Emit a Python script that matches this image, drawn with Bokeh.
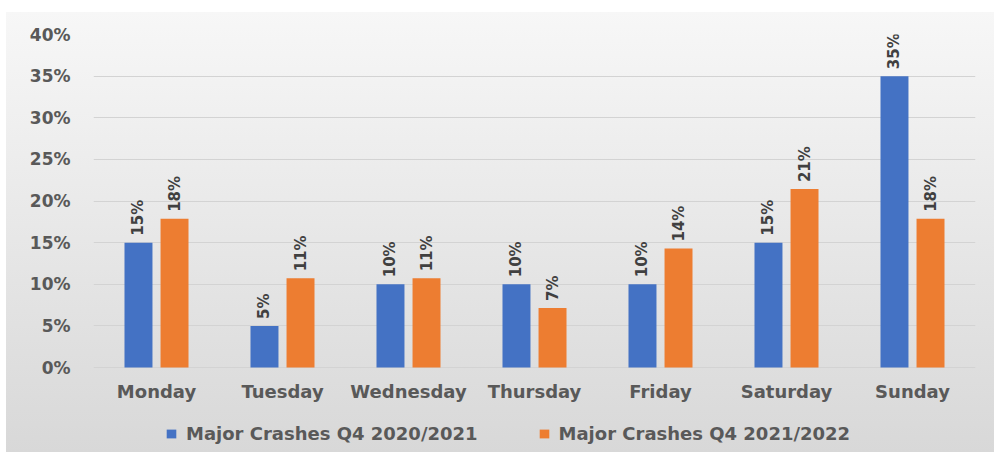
import math
from bokeh.plotting import figure
from bokeh.models import (ColumnDataSource, FactorRange, Range1d, Legend, LegendItem,
                          NumeralTickFormatter, FixedTicker)
from bokeh.transform import dodge
from bokeh.core.properties import value
from bokeh.embed import file_html
from bokeh.resources import INLINE

days = ["Monday", "Tuesday", "Wednesday", "Thursday", "Friday", "Saturday", "Sunday"]
crashes_2020_2021 = [0.15, 0.05, 0.10, 0.10, 0.10, 0.15, 0.35]
crashes_2021_2022 = [0.1786, 0.1071, 0.1071, 0.0714, 0.1429, 0.2143, 0.1786]
series_names = ["Major Crashes Q4 2020/2021", "Major Crashes Q4 2021/2022"]
y_ticks = [0.0, 0.05, 0.10, 0.15, 0.20, 0.25, 0.30, 0.35, 0.40]

BLUE = "#4472C4"
ORANGE = "#ED7D31"
TEXT = "#595959"
FONT = "DejaVu Sans"

src = ColumnDataSource(dict(
    day=days,
    zero=[0.0] * len(days),
    s1=crashes_2020_2021,
    s2=crashes_2021_2022,
    l1=[f"{round(v * 100)}%" for v in crashes_2020_2021],
    l2=[f"{round(v * 100)}%" for v in crashes_2021_2022],
))

# frame: 40% at 34px from top of page, 0% at 367px; frame continues down to 452px
# so that category labels and legend sit inside the plotting area
PX_PER_UNIT = 333 / 0.40
y_start = -(452 - 367) / PX_PER_UNIT

p = figure(x_range=FactorRange(*days), y_range=Range1d(y_start, 0.40),
           frame_width=882, frame_height=418,
           min_border_left=87, min_border_right=19, min_border_top=22, min_border_bottom=0,
           output_backend="svg", toolbar_location=None)

p.background_fill_alpha = 0
p.border_fill_alpha = 0
p.outline_line_color = None
p.styles = {"margin-top": "12px", "margin-left": "6px",
            "background": "linear-gradient(to bottom, #f7f7f7, #d8d8d8)"}

b1 = p.vbar(x=dodge("day", -0.143, range=p.x_range), top="s1", width=0.222,
            source=src, fill_color=BLUE, line_color=None)
b2 = p.vbar(x=dodge("day", 0.143, range=p.x_range), top="s2", width=0.222,
            source=src, fill_color=ORANGE, line_color=None)

for xoff, col, lab in [(-0.143, "s1", "l1"), (0.143, "s2", "l2")]:
    p.text(x=dodge("day", xoff, range=p.x_range), y=col, text=lab, source=src,
           angle=math.pi / 2, text_align="left", text_baseline="middle", y_offset=-7,
           text_font=value(FONT), text_font_style="bold", text_font_size="15px",
           text_color="#404040")

# category labels under the bars
p.text(x="day", y="zero", text="day", source=src, y_offset=24,
       text_align="center", text_baseline="middle",
       text_font=value(FONT), text_font_style="bold", text_font_size="18px",
       text_color=TEXT)
p.xaxis.visible = False

p.yaxis.ticker = FixedTicker(ticks=y_ticks)
p.yaxis.formatter = NumeralTickFormatter(format="0%")
ax = p.yaxis[0]
ax.axis_line_color = None
ax.major_tick_line_color = None
ax.minor_tick_line_color = None
ax.major_tick_out = 0
ax.major_tick_in = 0
ax.major_label_text_font = FONT
ax.major_label_text_font_style = "bold"
ax.major_label_text_color = TEXT
ax.major_label_text_font_size = "17px"
ax.major_label_standoff = 23

p.xgrid.grid_line_color = None
p.ygrid.grid_line_color = "#d3d3d3"
p.ygrid.grid_line_width = 1

legend = Legend(items=[LegendItem(label=series_names[0], renderers=[b1]),
                       LegendItem(label=series_names[1], renderers=[b2])],
                orientation="horizontal", location=(72, 8),
                glyph_width=12, glyph_height=11, label_standoff=9, spacing=60,
                padding=0, margin=0, label_height=20,
                label_text_font=FONT, label_text_font_style="bold",
                label_text_font_size="18px", label_text_color=TEXT,
                background_fill_alpha=0, border_line_color=None)
p.add_layout(legend, "center")

open("out.html", "w").write(file_html(p, INLINE))
